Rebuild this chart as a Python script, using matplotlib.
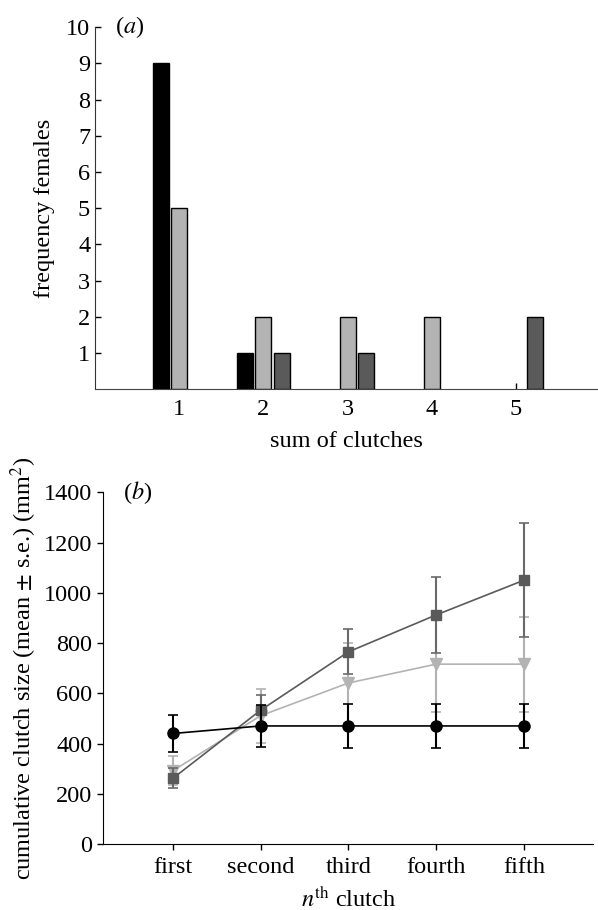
import matplotlib
matplotlib.use("Agg")
import numpy as np
from matplotlib import pyplot as plt

plt.rcParams['font.family'] = ['Liberation Serif', 'DejaVu Serif']
plt.rcParams['mathtext.fontset'] = 'stix'

# panel (a): frequency of females by sum of clutches
sums = [1, 2, 3, 4, 5]
freq_black = [9, 1, 0, 0, 0]
freq_light = [5, 2, 2, 2, 0]
freq_dark = [0, 1, 1, 0, 2]

# panel (b): cumulative clutch size
clutch_labels = ['first', 'second', 'third', 'fourth', 'fifth']
mean_black = [440, 470, 470, 470, 470]
se_black = [72, 85, 87, 87, 87]
mean_light = [292, 511, 641, 716, 716]
se_light = [58, 108, 159, 190, 189]
mean_dark = [262, 533, 765, 912, 1050]
se_dark = [39, 60, 89, 151, 226]

c_black = '#000000'
c_light = '#b3b3b3'
c_dark = '#5a5a5a'
fs = 17.5

fig = plt.figure(figsize=(5.98, 9.10), dpi=100)
ax1 = fig.add_axes([0.159, 0.5725, 0.839, 0.3975])
ax2 = fig.add_axes([0.172, 0.0725, 0.820, 0.3865])

x = np.array(sums)
w = 0.19
off = 0.22
for i, (vals, col) in enumerate([(freq_black, c_black), (freq_light, c_light), (freq_dark, c_dark)]):
    vals = np.array(vals)
    m = vals > 0
    ax1.bar(x[m] + (i - 1) * off, vals[m], width=w, color=col, edgecolor='black', linewidth=1, zorder=3)

ax1.set_xlim(0, 5.96)
ax1.set_ylim(0, 10)
ax1.set_xticks(sums)
ax1.set_yticks(range(1, 11))
ax1.tick_params(direction='in', length=4, labelsize=fs, width=1)
ax1.tick_params(axis='x', pad=7)
ax1.spines['top'].set_visible(False)
ax1.spines['right'].set_visible(False)
ax1.spines['left'].set_color('#333333')
ax1.spines['bottom'].set_color('#444444')
ax1.set_ylabel('frequency females', fontsize=fs, labelpad=8)
ax1.set_xlabel('sum of clutches', fontsize=fs, labelpad=8)
ax1.text(0.24, 10, '($\\mathit{a}$)', fontsize=fs, va='center', ha='left')

xs = np.arange(1, 6)
ax2.errorbar(xs, mean_light, yerr=se_light, color=c_light, marker='v', ms=8,
             lw=1.2, capsize=3.3, capthick=1.2, elinewidth=1.5, zorder=3)
ax2.errorbar(xs, mean_dark, yerr=se_dark, color=c_dark, marker='s', ms=7,
             lw=1.2, capsize=3.3, capthick=1.2, elinewidth=1.5, zorder=4,
             ecolor='#6a6a6a')
ax2.errorbar(xs, mean_black, yerr=se_black, color=c_black, marker='o', ms=8,
             lw=1.2, capsize=3.3, capthick=1.2, elinewidth=1.5, zorder=5)

ax2.set_xlim(0.2, 5.79)
ax2.set_ylim(0, 1400)
ax2.set_xticks(xs)
ax2.set_xticklabels(clutch_labels)
ax2.set_yticks(range(0, 1401, 200))
ax2.tick_params(direction='out', length=4, labelsize=fs, width=1)
ax2.tick_params(axis='x', pad=5.5)
ax2.spines['top'].set_visible(False)
ax2.spines['right'].set_visible(False)
ax2.set_ylabel('cumulative clutch size (mean $\\pm$ s.e.) (mm$^2$)', fontsize=fs, labelpad=4)
ax2.set_xlabel('$n^{\\rm th}$ clutch', fontsize=fs, labelpad=6)
ax2.text(0.43, 1400, '($\\mathit{b}$)', fontsize=fs, va='center', ha='left')

fig.savefig('out.png', dpi=100)
